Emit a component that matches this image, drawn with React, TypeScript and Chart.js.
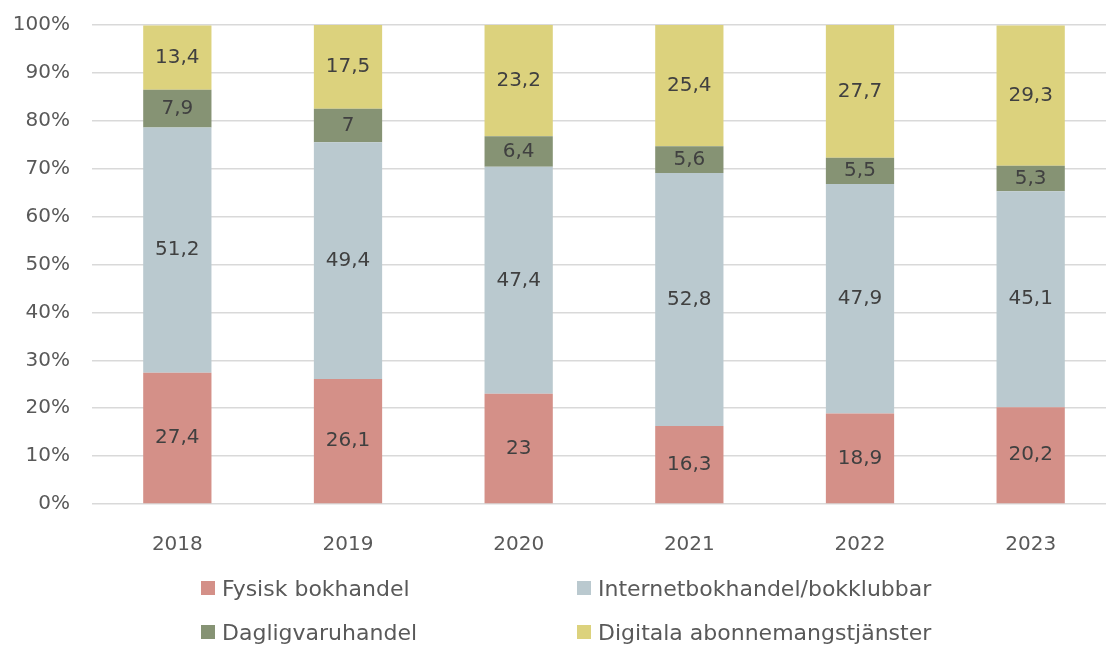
import React, { useEffect, useRef } from "react";
import { Chart, registerables } from "chart.js";

Chart.register(...registerables);

const years = ["2018", "2019", "2020", "2021", "2022", "2023"];
const fysiskBokhandel = [27.4, 26.1, 23, 16.3, 18.9, 20.2];
const internetBokhandel = [51.2, 49.4, 47.4, 52.8, 47.9, 45.1];
const dagligvaruhandel = [7.9, 7, 6.4, 5.6, 5.5, 5.3];
const digitalaAbonnemang = [13.4, 17.5, 23.2, 25.4, 27.7, 29.3];

const seriesNames = [
  "Fysisk bokhandel",
  "Internetbokhandel/bokklubbar",
  "Dagligvaruhandel",
  "Digitala abonnemangstjänster",
];
const seriesValues = [fysiskBokhandel, internetBokhandel, dagligvaruhandel, digitalaAbonnemang];
const seriesColors = ["#D49088", "#BAC9CF", "#869374", "#DCD27D"];

const FONT = "'DejaVu Sans', sans-serif";
const TEXT = "#595959";
const LABEL = "#404040";

const labelPlugin = {
  id: "segLabels",
  afterDatasetsDraw(chart: any) {
    const ctx = chart.ctx;
    ctx.save();
    ctx.font = `20px ${FONT}`;
    ctx.fillStyle = LABEL;
    ctx.textAlign = "center";
    ctx.textBaseline = "middle";
    chart.data.datasets.forEach((ds: any, i: number) => {
      const meta = chart.getDatasetMeta(i);
      meta.data.forEach((el: any, j: number) => {
        const v = ds.data[j];
        const cy = (el.y + el.base) / 2;
        ctx.fillText(String(v).replace(".", ","), el.x, cy);
      });
    });
    ctx.restore();
  },
};

const SHIFT = 9;

export default function App() {
  const ref = useRef<HTMLCanvasElement | null>(null);

  useEffect(() => {
    if (!ref.current) return;
    const chart = new Chart(ref.current, {
      type: "bar",
      data: {
        labels: years,
        datasets: seriesNames.map((name, i) => ({
          label: name,
          data: seriesValues[i],
          backgroundColor: seriesColors[i],
          borderWidth: 0,
          barPercentage: 1,
          categoryPercentage: 0.4,
        })),
      },
      options: {
        responsive: false,
        animation: false,
        events: [],
        layout: { padding: { top: 14, right: 4, left: 0, bottom: 0 } },
        plugins: {
          legend: { display: false },
          tooltip: { enabled: false },
          title: { display: false },
        },
        scales: {
          x: {
            stacked: true,
            grid: { display: false },
            border: { display: false },
            ticks: {
              color: TEXT,
              font: { family: FONT, size: 20 },
              padding: 21,
            },
            afterFit(scale: any) {
              scale.height = 648 - 504;
            },
          },
          y: {
            stacked: true,
            min: 0,
            max: 100,
            grid: { color: "#D9D9D9", lineWidth: 1.5, drawTicks: false },
            border: { display: false },
            ticks: {
              stepSize: 10,
              color: TEXT,
              font: { family: FONT, size: 20 },
              padding: 22,
              callback: (v: any) => `${v}%`,
            },
            afterFit(scale: any) {
              scale.width = 92;
            },
          },
        },
      },
      plugins: [labelPlugin],
    });
    return () => chart.destroy();
  }, []);

  const legendPos = [
    { left: 201, top: 588 },
    { left: 577, top: 588 },
    { left: 201, top: 632 },
    { left: 577, top: 632 },
  ];

  return (
    <div
      style={{
        position: "fixed",
        left: 0,
        top: 0,
        width: 1106,
        height: 648,
        overflow: "hidden",
        background: "#fff",
      }}
    >
      <canvas
        ref={ref}
        width={1120}
        height={648 + SHIFT}
        style={{ position: "absolute", left: 0, top: -SHIFT, width: 1120, height: 648 + SHIFT, display: "block" }}
      />
      {seriesNames.map((name, i) => (
        <div
          key={name}
          style={{
            position: "absolute",
            left: legendPos[i].left,
            top: legendPos[i].top - 15,
            height: 30,
            display: "flex",
            alignItems: "center",
            fontFamily: FONT,
            fontSize: 22,
            color: TEXT,
            whiteSpace: "nowrap",
          }}
        >
          <span
            style={{
              display: "inline-block",
              width: 14,
              height: 14,
              background: seriesColors[i],
              marginRight: 7,
            }}
          />
          {name}
        </div>
      ))}
    </div>
  );
}
